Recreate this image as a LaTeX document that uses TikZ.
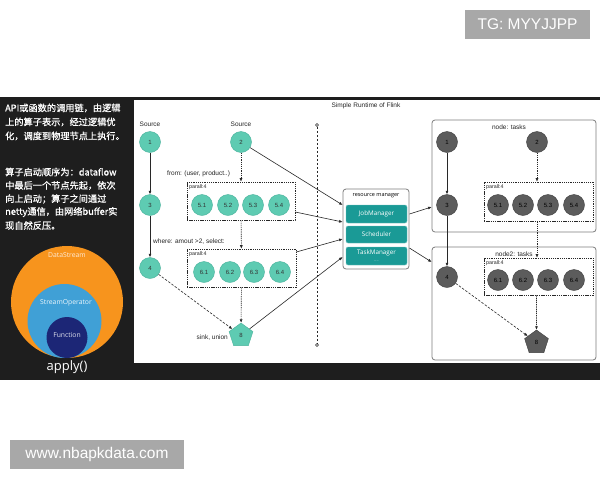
\documentclass[tikz,border=0pt]{standalone}
\usepackage{fontspec}
\setmainfont{Liberation Sans}
\newfontfamily\cjk[FakeBold=0.8]{Noto Sans CJK SC}
\newfontfamily\osans{Open Sans}
\usetikzlibrary{arrows.meta,shapes.geometric,calc}
\definecolor{bgdark}{RGB}{30,30,30}
\definecolor{tealc}{RGB}{94,203,178}
\definecolor{tealb}{RGB}{72,178,155}
\definecolor{rmteal}{RGB}{26,154,150}
\definecolor{grayn}{RGB}{92,92,92}
\definecolor{grayb}{RGB}{62,62,62}
\definecolor{orangec}{RGB}{247,148,29}
\definecolor{bluec}{RGB}{64,160,214}
\definecolor{navyc}{RGB}{28,38,118}
\definecolor{wm}{RGB}{168,168,168}
\definecolor{linec}{RGB}{40,40,40}
\definecolor{boxb}{RGB}{125,125,125}
\begin{document}
\begin{tikzpicture}[x=1pt,y=-1pt,
  tnode/.style={circle,fill=tealc,draw=tealb,line width=0.4pt,minimum size=21pt,inner sep=0pt,font=\fontsize{6}{6}\selectfont,text=black!80},
  gnode/.style={circle,fill=grayn,draw=grayb,line width=0.4pt,minimum size=21pt,inner sep=0pt,font=\fontsize{6}{6}\selectfont,text=black},
  tpent/.style={regular polygon,regular polygon sides=5,minimum size=25pt,inner sep=0pt,fill=tealc,draw=tealb,line width=0.4pt,font=\fontsize{6}{6}\selectfont,text=black!80},
  gpent/.style={tpent,fill=grayn,draw=grayb,text=black},
  parbox/.style={rectangle,draw=linec,dash pattern=on 1.3pt off 0.9pt,line width=0.6pt,inner sep=0pt},
  arr/.style={draw=linec,line width=0.6pt,-{Latex[length=3.5pt,width=3pt]}},
  dotarr/.style={arr,dash pattern=on 1.3pt off 0.9pt},
  dasharr/.style={arr,dash pattern=on 2.5pt off 1.5pt},
  lbl/.style={font=\fontsize{6.5}{7}\selectfont,inner sep=0pt,text=black!85},
  plbl/.style={font=\fontsize{5.3}{5.5}\selectfont,inner sep=0pt,text=black!85,anchor=west},
  cjkline/.style={anchor=west,inner sep=0pt,text=white,font=\cjk\fontsize{9.2}{10}\selectfont},
  rmbox/.style={rectangle,rounded corners=2pt,fill=rmteal,draw=rmteal!60,line width=0.4pt,minimum width=61pt,inner sep=0pt,text=white,font=\osans\fontsize{6.3}{7}\selectfont},
  tbox/.style={rectangle,rounded corners=3pt,draw=boxb,line width=0.8pt,inner sep=0pt},
  wmbox/.style={rectangle,fill=wm,inner sep=0pt,text=white,font=\fontsize{15.5}{16}\selectfont},
  circlbl/.style={inner sep=0pt,font=\osans\fontsize{6.8}{7}\selectfont}
]
\useasboundingbox (0,0) rectangle (600,480);
\fill[white] (0,0) rectangle (600,480);
% dark band and white panel
\fill[bgdark] (0,97) rectangle (600,380);
\fill[white] (134,99.5) rectangle (600,363);

% watermarks
\node[wmbox,minimum width=125pt,minimum height=29pt] (wm1) at (527.5,24.5) {TG: MYYJJPP};
\node[wmbox,minimum width=174pt,minimum height=29pt] (wm2) at (97,454.5) {www.nbapkdata.com};

% left text
\node[cjkline] (c1) at (5,108) {API或函数的调用链，由逻辑};
\node[cjkline] (c2) at (5,122) {上的算子表示，经过逻辑优};
\node[cjkline] (c3) at (5,136) {化，调度到物理节点上执行。};
\node[cjkline] (c4) at (5,172) {算子启动顺序为：dataflow};
\node[cjkline] (c5) at (5,185.5) {中最后一个节点先起，依次};
\node[cjkline] (c6) at (5,199) {向上启动；算子之间通过};
\node[cjkline] (c7) at (5,212) {netty通信，由网络buffer实};
\node[cjkline] (c8) at (5,225.5) {现自然反压。};

% nested circles
\node[circle,fill=orangec,minimum size=112pt,inner sep=0pt] (ds) at (67,302) {};
\node[circle,fill=bluec,minimum size=74pt,inner sep=0pt] (so) at (64.5,321) {};
\node[circle,fill=navyc,minimum size=41pt,inner sep=0pt] (fn) at (67,337.5) {};
\node[circlbl,text=orange!15] (dsl) at (67,255) {DataStream};
\node[circlbl,text=white!90!bluec] (sol) at (66,303) {StreamOperator};
\node[circlbl,text=white!85!navyc] (fnl) at (67,335) {Function};
\node[inner sep=0pt,text=white,font=\osans\fontsize{13}{13}\selectfont] (ap) at (67,367) {apply()};

% title
\node[lbl] (title) at (366,106) {Simple Runtime of Flink};

% separator
\node[circle,draw=linec,line width=0.5pt,minimum size=3pt,inner sep=0pt] (sepT) at (317,125) {};
\node[circle,draw=linec,line width=0.5pt,minimum size=3pt,inner sep=0pt] (sepB) at (317,345) {};
\draw[linec,line width=0.6pt,dash pattern=on 2.5pt off 1.5pt] (sepT) -- (sepB);

% ---------- left logical graph ----------
\node[lbl] (src1) at (150,124) {Source};
\node[lbl] (src2) at (241,124) {Source};
\node[tnode] (n1) at (150,142) {1};
\node[tnode] (n2) at (241,142) {2};
\node[tnode] (n3) at (150,205) {3};
\node[tnode] (n4) at (150,268) {4};
\node[parbox,minimum width=108pt,minimum height=38pt] (box1) at (241,201) {};
\node[parbox,minimum width=109pt,minimum height=38pt] (box2) at (241.5,268) {};
\node[plbl] (pl1) at (189,187) {parall:4};
\node[plbl] (pl2) at (189,254) {parall:4};
\node[tnode] (n51) at (202,205) {5.1};
\node[tnode] (n52) at (228,205) {5.2};
\node[tnode] (n53) at (253,205) {5.3};
\node[tnode] (n54) at (279,205) {5.4};
\node[tnode] (n61) at (204,272) {6.1};
\node[tnode] (n62) at (230,272) {6.2};
\node[tnode] (n63) at (254,272) {6.3};
\node[tnode] (n64) at (280,272) {6.4};
\node[tpent] (p8) at (241,335.5) {8};
\node[lbl,anchor=west] (from) at (167,174) {from: (user, product..)};
\node[lbl,anchor=west] (where) at (153,242) {where: amout >2, select:};
\node[lbl,anchor=east] (sink) at (228,338) {sink, union};

\draw[arr] (n1) -- (n3);
\draw[arr] (n3) -- (n4);
\draw[dotarr] (n2) -- (box1);
\draw[dotarr] (box1) -- (box2);
\draw[dotarr] (box2) -- (p8);
\draw[dasharr] (n4) -- (p8);

% ---------- resource manager ----------
\node[rectangle,rounded corners=3pt,draw=boxb,fill=white,line width=0.8pt,minimum width=66pt,minimum height=80pt,inner sep=0pt] (rm) at (376,229) {};
\node[inner sep=0pt,font=\osans\fontsize{5.5}{6}\selectfont] (rmt) at (376,196) {resource manager};
\node[rmbox,minimum height=18pt] (jm) at (376.5,214) {JobManager};
\node[rmbox,minimum height=17pt] (sch) at (376.5,234.5) {Scheduler};
\node[rmbox,minimum height=18pt] (tm) at (376.5,256) {};
\node[inner sep=0pt,text=white,font=\osans\fontsize{6.3}{7}\selectfont] (tmt) at (376.5,252.5) {TaskManager};
\node[inner sep=0pt,text=white!80!rmteal,font=\osans\fontsize{4}{4}\selectfont] (tmd) at (376.5,261) {....};

\coordinate (r1) at (rm.west |- 0,205);
\coordinate (r2) at (rm.west |- 0,222);
\coordinate (r3) at (rm.west |- 0,239);
\coordinate (r4) at (rm.west |- 0,257);
\draw[arr] (n2) -- (r1);
\draw[arr] (box1.east |- 0,212) -- (r2);
\draw[arr] (box2.east |- 0,252) -- (r3);
\draw[arr] (p8) -- (r4);

% ---------- physical nodes ----------
\node[tbox,minimum width=164pt,minimum height=112pt] (rb1) at (514,176) {};
\node[tbox,minimum width=164pt,minimum height=113pt] (rb2) at (514,303.5) {};
\node[lbl] (rb1t) at (509,127) {node: tasks};
\node[lbl] (rb2t) at (514,254) {node2: tasks};

\draw[arr] (rm.east |- 0,214) -- (rb1.west |- 0,207);
\draw[arr] (rm.east |- 0,248) -- (rb2.west |- 0,262);

\node[gnode] (g1) at (447,142) {1};
\node[gnode] (g2) at (537,142) {2};
\node[gnode] (g3) at (447,205) {3};
\node[gnode] (g4) at (447,277) {4};
\node[parbox,minimum width=109pt,minimum height=39pt] (gbox1) at (538.5,201.5) {};
\node[parbox,minimum width=109pt,minimum height=37pt] (gbox2) at (538.5,276.5) {};
\node[plbl] (gpl1) at (486,187) {parall:4};
\node[plbl] (gpl2) at (486,263) {parall:4};
\node[gnode] (g51) at (498,205) {5.1};
\node[gnode] (g52) at (523,205) {5.2};
\node[gnode] (g53) at (548,205) {5.3};
\node[gnode] (g54) at (574,205) {5.4};
\node[gnode] (g61) at (498,280) {6.1};
\node[gnode] (g62) at (523,280) {6.2};
\node[gnode] (g63) at (548,280) {6.3};
\node[gnode] (g64) at (574,280) {6.4};
\node[gpent] (gp8) at (536.5,342.5) {8};

\draw[arr] (g1) -- (g3);
\draw[arr] (g3) -- (g4);
\draw[dotarr] (g2) -- (g2 |- gbox1.north);
\draw[dotarr] (gbox1.south -| g2) -- (gbox2.north -| g2);
\draw[dotarr] (gbox2.south -| gp8) -- (gp8);
\draw[dasharr] (g4) -- (gp8);
\end{tikzpicture}
\end{document}
